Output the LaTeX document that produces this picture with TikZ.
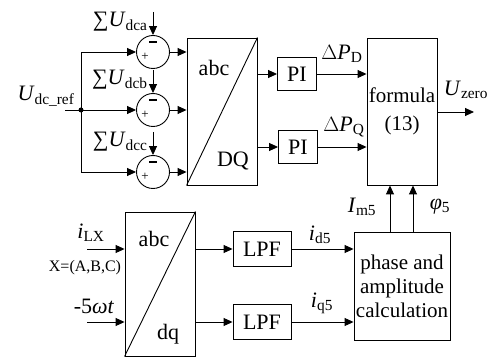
\documentclass[tikz,border=0pt]{standalone}
\usepackage{fontspec}
\setmainfont{Liberation Serif}
\usetikzlibrary{arrows.meta,calc,positioning}
\newcommand{\vsub}[2]{\textit{#1}\textsubscript{#2}}
\begin{document}
\begin{tikzpicture}[x=1pt, y=-1pt, line width=0.9pt,
  every node/.style={font=\fontsize{22}{24}\selectfont},
  blk/.style={draw, rectangle, inner sep=0pt},
  sumc/.style={draw, circle, minimum size=33pt, inner sep=0pt},
  lbl/.style={inner sep=1pt},
  arr/.style={-{Triangle[length=9pt,width=8pt]}}]
  \useasboundingbox (0,0) rectangle (488,358);
  % summing points
  \foreach \k/\y/\n in {1/52/a, 2/110/b, 3/172/c} {
    \node[sumc] (s\k) at (153,\y) {};
    \coordinate (u\k) at (153,\y-40);
    \draw[arr] (u\k) -- (s\k.north);
    \node[lbl, anchor=east] at (149,\y-30) {∑\vsub{U}{dc\n}};
    \node[lbl, font=\fontsize{13}{14}\selectfont] at ($(s\k)+(-8,5)$) {+};
    \draw[line width=1.6pt] ($(s\k)+(-4,-10)$) -- ($(s\k)+(4,-10)$);
  }
  % reference bus
  \coordinate (uref) at (65,110);
  \coordinate (bus) at (81,110);
  \node[lbl] at (46,96) {\vsub{U}{dc\_ref}};
  \draw (uref) -- (bus);
  \fill (bus) circle (2.5pt);
  \draw[arr] (bus) |- (s1.west);
  \draw[arr] (bus) -- (s2.west);
  \draw[arr] (bus) |- (s3.west);
  % abc/DQ
  \node[blk, minimum width=70pt, minimum height=147pt] (t1) at (222,111.5) {};
  \draw (t1.south west) -- (t1.north east);
  \node[lbl] at (214,68) {abc};
  \node[lbl] at (233,161) {DQ};
  \foreach \k in {1,2,3} {
    \draw[arr] (s\k.east) -- (s\k.east -| t1.west);
  }
  % PI controllers
  \node[blk, minimum width=39pt, minimum height=33pt] (pi1) at (297,74) {PI};
  \node[blk, minimum width=39pt, minimum height=33pt] (pi2) at (298,147) {PI};
  \draw[arr] (pi1 -| t1.east) -- (pi1.west);
  \draw[arr] (pi2 -| t1.east) -- (pi2.west);
  % formula
  \node[blk, minimum width=70pt, minimum height=147pt, align=center,
    font=\fontsize{21}{28}\selectfont] (f) at (402,111.5) {formula\\(13)};
  \draw[arr] (pi1.east) -- (pi1 -| f.west);
  \draw[arr] (pi2.east) -- (pi2 -| f.west);
  \node[lbl] at (342,54) {$\Delta$\vsub{P}{D}};
  \node[lbl] at (344,127) {$\Delta$\vsub{P}{Q}};
  \coordinate (uz) at (474,112);
  \draw[arr] (f.east |- uz) -- (uz);
  \node[lbl] at (466,90) {\vsub{U}{zero}};
  % abc/dq
  \node[blk, minimum width=70pt, minimum height=144pt] (t2) at (160,284) {};
  \draw (t2.south west) -- (t2.north east);
  \node[lbl] at (154,239) {abc};
  \node[lbl] at (168,334) {dq};
  \coordinate (in1) at (87,249);
  \coordinate (in2) at (87,322);
  \draw[arr] (in1) -- (in1 -| t2.west);
  \draw[arr] (in2) -- (in2 -| t2.west);
  \node[lbl] at (91,233) {\vsub{i}{LX}};
  \node[lbl, font=\fontsize{16}{18}\selectfont] at (85,268) {X=(A,B,C)};
  \node[lbl] at (94,306) {-5\textit{ωt}};
  % low-pass filters
  \node[blk, minimum width=58pt, minimum height=35pt] (lpf1) at (262,249) {LPF};
  \node[blk, minimum width=58pt, minimum height=35pt] (lpf2) at (262,322) {LPF};
  \draw[arr] (lpf1 -| t2.east) -- (lpf1.west);
  \draw[arr] (lpf2 -| t2.east) -- (lpf2.west);
  % phase and amplitude
  \node[blk, minimum width=96pt, minimum height=108pt, align=center,
    font=\fontsize{21}{24}\selectfont] (ph) at (402,286) {phase and\\amplitude\\calculation};
  \draw[arr] (lpf1.east) -- (lpf1 -| ph.west);
  \draw[arr] (lpf2.east) -- (lpf2 -| ph.west);
  \node[lbl] at (320,235) {\vsub{i}{d5}};
  \node[lbl] at (322,303) {\vsub{i}{q5}};
  \draw[arr] ([xshift=-12pt]ph.north) -- ([xshift=-12pt]ph.north |- f.south);
  \draw[arr] ([xshift=11pt]ph.north) -- ([xshift=11pt]ph.north |- f.south);
  \node[lbl] at (362,207) {\vsub{I}{m5}};
  \node[lbl] at (440,207) {\textit{φ}\textsubscript{5}};
\end{tikzpicture}
\end{document}
